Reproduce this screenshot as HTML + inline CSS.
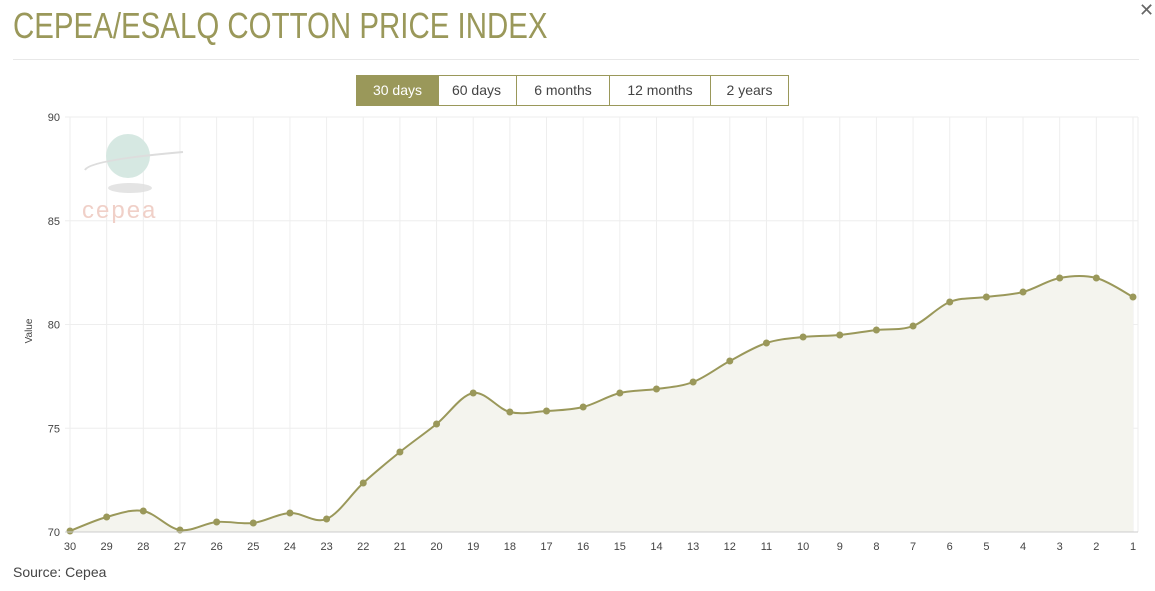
<!DOCTYPE html>
<html><head><meta charset="utf-8"><style>
body{margin:0;width:1155px;height:591px;background:#fff;font-family:"Liberation Sans",sans-serif;position:relative;overflow:hidden}
.t{position:absolute;left:13px;top:5px;font-size:36px;color:#9a985a;transform:scaleX(0.818);transform-origin:0 0;white-space:nowrap}
.x{position:absolute;left:1139px;top:0px;font-size:18px;color:#666}
.hr{position:absolute;left:13px;top:59px;width:1126px;height:1px;background:#e8e8e8}
.b{position:absolute;top:75px;height:29px;border:1px solid #9a985a;box-sizing:content-box;font-size:14px;color:#444;text-align:center;line-height:29px}
.src{position:absolute;left:13px;top:564px;font-size:14px;color:#444}
</style></head><body>
<div class="t">CEPEA/ESALQ COTTON PRICE INDEX</div>
<div class="x">✕</div>
<div class="hr"></div>
<div class="b" style="left:356px;width:81px;background:#9a985a;color:#fff">30 days</div>
<div class="b" style="left:437px;width:79px;border-left:none">60 days</div>
<div class="b" style="left:517px;width:92px;border-left:none">6 months</div>
<div class="b" style="left:610px;width:100px;border-left:none">12 months</div>
<div class="b" style="left:711px;width:77px;border-left:none">2 years</div>
<svg id="s" width="1155" height="591" style="position:absolute;left:0;top:0"></svg>
<div class="src">Source: Cepea</div>
<script>
var ys=[531,517,511,530,522,523,513,519,483,452,424,393,412,411,407,393,389,382,361,343,337,335,330,326,302,297,292,278,278,297];
var x0=70,dx=(1133-70)/29,h='';
for(var i=0;i<30;i++){var x=x0+i*dx;h+='<line x1="'+x+'" y1="117" x2="'+x+'" y2="532" stroke="#eeeeee"/>';
h+='<text x="'+x+'" y="550" font-size="11" fill="#444" text-anchor="middle">'+(30-i)+'</text>';}
h+='<line x1="1138" y1="117" x2="1138" y2="532" stroke="#eeeeee"/>';
for(var k=0;k<5;k++){var y=117+k*103.75;h+='<line x1="65" y1="'+y+'" x2="1138" y2="'+y+'" stroke="#eeeeee"/>';
h+='<text x="60" y="'+(y+4)+'" font-size="11" fill="#444" text-anchor="end">'+(90-k*5)+'</text>';}
h+='<text transform="translate(32,331) rotate(-90)" font-size="10" fill="#444" text-anchor="middle">Value</text>';
h+='<ellipse cx="130" cy="188" rx="22" ry="5" fill="#ddd" opacity="0.8"/><circle cx="128" cy="156" r="22" fill="#d6e8e2"/><path d="M85,170 Q90,160 183,152" stroke="#ddd" stroke-width="2" fill="none"/>';
h+='<text x="82" y="218" font-size="24" fill="#f0d0c8" letter-spacing="2">cepea</text>';
var P=ys.map(function(y,i){return [x0+i*dx,y]});
var d='M'+P[0][0]+','+P[0][1];
for(var i=0;i<29;i++){var p0=P[Math.max(i-1,0)],p1=P[i],p2=P[i+1],p3=P[Math.min(i+2,29)];
d+=' C'+(p1[0]+(p2[0]-p0[0])/6)+','+(p1[1]+(p2[1]-p0[1])/6)+' '+(p2[0]-(p3[0]-p1[0])/6)+','+(p2[1]-(p3[1]-p1[1])/6)+' '+p2[0]+','+p2[1];}
h+='<path d="'+d+' L1133,532 L70,532 Z" fill="#f4f4ee"/>';
h+='<path d="'+d+'" fill="none" stroke="#9a985a" stroke-width="2"/>';
P.forEach(function(p){h+='<circle cx="'+p[0]+'" cy="'+p[1]+'" r="3.5" fill="#9a985a"/>'});
h+='<line x1="65" y1="532" x2="1138" y2="532" stroke="#ccc"/>';
document.getElementById('s').innerHTML=h;
</script>
</body></html>
